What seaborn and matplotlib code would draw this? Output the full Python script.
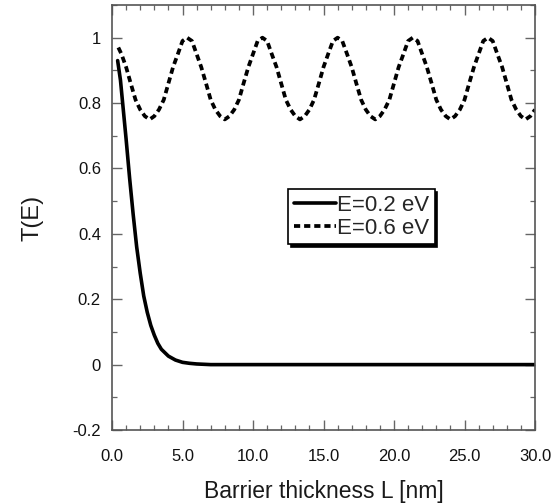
import numpy as np
import pandas as pd
import matplotlib
matplotlib.use("Agg")
import matplotlib.pyplot as plt
import seaborn as sns

# E = 0.2 eV (tunnelling, decays)
L_02 = [0.4, 0.6, 0.8, 1.0, 1.25, 1.5, 1.75, 2.0, 2.25, 2.5, 2.75, 3.0, 3.25,
        3.5, 4.0, 4.5, 5.0, 5.5, 6.0, 7.0, 10.0, 15.0, 20.0, 25.0, 30.0]
T_02 = [0.93, 0.87, 0.78, 0.69, 0.57, 0.46, 0.36, 0.28, 0.21, 0.16, 0.12, 0.09, 0.065,
        0.047, 0.026, 0.014, 0.007, 0.004, 0.002, 0.0, 0.0, 0.0, 0.0, 0.0, 0.0]

# E = 0.6 eV (above barrier, oscillates)
L_06 = [0.45, 0.67, 1.0, 1.33, 1.67, 2.0, 2.33, 2.67, 3.0, 3.33, 3.67, 4.0, 4.33, 4.67, 5.0,
        5.33, 5.67, 6.0, 6.33, 6.67, 7.0, 7.33, 7.67, 8.0, 8.33, 8.67, 9.0, 9.33, 9.67, 10.0,
        10.33, 10.67, 11.0, 11.33, 11.67, 12.0, 12.33, 12.67, 13.0, 13.33, 13.67, 14.0, 14.33, 14.67, 15.0,
        15.33, 15.67, 16.0, 16.33, 16.67, 17.0, 17.33, 17.67, 18.0, 18.33, 18.67, 19.0, 19.33, 19.67, 20.0,
        20.33, 20.67, 21.0, 21.33, 21.67, 22.0, 22.33, 22.67, 23.0, 23.33, 23.67, 24.0, 24.33, 24.67, 25.0,
        25.33, 25.67, 26.0, 26.33, 26.67, 27.0, 27.33, 27.67, 28.0, 28.33, 28.67, 29.0, 29.33, 29.67, 30.0]
T_06 = [0.97, 0.95, 0.91, 0.86, 0.81, 0.78, 0.76, 0.75, 0.76, 0.78, 0.81, 0.86, 0.91, 0.95, 0.99,
        1.00, 0.99, 0.95, 0.91, 0.86, 0.81, 0.78, 0.76, 0.75, 0.76, 0.78, 0.81, 0.86, 0.91, 0.95,
        0.99, 1.00, 0.99, 0.95, 0.91, 0.86, 0.81, 0.78, 0.76, 0.75, 0.76, 0.78, 0.81, 0.86, 0.91,
        0.95, 0.99, 1.00, 0.99, 0.95, 0.91, 0.86, 0.81, 0.78, 0.76, 0.75, 0.76, 0.78, 0.81, 0.86,
        0.91, 0.95, 0.99, 1.00, 0.99, 0.95, 0.91, 0.86, 0.81, 0.78, 0.76, 0.75, 0.76, 0.78, 0.81,
        0.86, 0.91, 0.95, 0.99, 1.00, 0.99, 0.95, 0.91, 0.86, 0.81, 0.78, 0.76, 0.75, 0.76, 0.78]

labels = ["E=0.2 eV", "E=0.6 eV"]
x_ticks = [0, 5, 10, 15, 20, 25, 30]
x_ticklabels = ["0.0", "5.0", "10.0", "15.0", "20.0", "25.0", "30.0"]
y_ticks = [-0.2, 0, 0.2, 0.4, 0.6, 0.8, 1.0]
y_ticklabels = ["-0.2", "0", "0.2", "0.4", "0.6", "0.8", "1"]

sns.set_style("ticks")
plt.rcParams['font.family'] = ['Liberation Sans', 'DejaVu Sans']

df02 = pd.DataFrame({"L": L_02, "T": T_02})
df06 = pd.DataFrame({"L": L_06, "T": T_06})

fig = plt.figure(figsize=(5.54, 5.04), dpi=100)
ax = fig.add_axes([112/554, 1 - 430/504, (535-112)/554, (430-5)/504])

sns.lineplot(data=df02, x="L", y="T", ax=ax, color="black", lw=2.6, label=labels[0])
sns.lineplot(data=df06, x="L", y="T", ax=ax, color="black", lw=2.7, label=labels[1])
ax.lines[1].set_dashes([1.65, 1.05])
ax.lines[1].set_dash_capstyle("butt")

ax.set_xlim(0, 30)
ax.set_ylim(-0.2, 1.1)
ax.set_xticks(x_ticks)
ax.set_xticklabels(x_ticklabels, fontsize=12)
ax.set_yticks(y_ticks)
ax.set_yticklabels(y_ticklabels, fontsize=12)
ax.set_xticks(np.arange(0, 31, 1), minor=True)
ax.set_yticks(np.arange(-0.2, 1.11, 0.1), minor=True)
ax.tick_params(which="both", direction="in", top=True, right=True, colors="#666666",
               labelcolor="#111111")
ax.tick_params(which="major", length=7, width=1.0)
ax.tick_params(axis="x", which="major", pad=14)
ax.tick_params(axis="y", which="major", pad=8)
ax.tick_params(which="minor", length=3.5, width=0.9)
for s in ax.spines.values():
    s.set_color("#555555")
    s.set_linewidth(1.2)

ax.set_xlabel("Barrier thickness L [nm]", fontsize=16.5, color="#1a1a1a", labelpad=11)
ax.set_ylabel("T(E)", fontsize=17, color="#1a1a1a", labelpad=21)

leg = ax.legend(loc="upper left", bbox_to_anchor=(0.416, 0.567), borderaxespad=0,
                fontsize=16, handlelength=1.9, handletextpad=0.05, labelspacing=0.1,
                borderpad=0.25, fancybox=False, framealpha=1, edgecolor="black",
                shadow={'color': 'black', 'alpha': 1})
leg.get_frame().set_linewidth(1.2)

fig.savefig("out.png", dpi=100)
